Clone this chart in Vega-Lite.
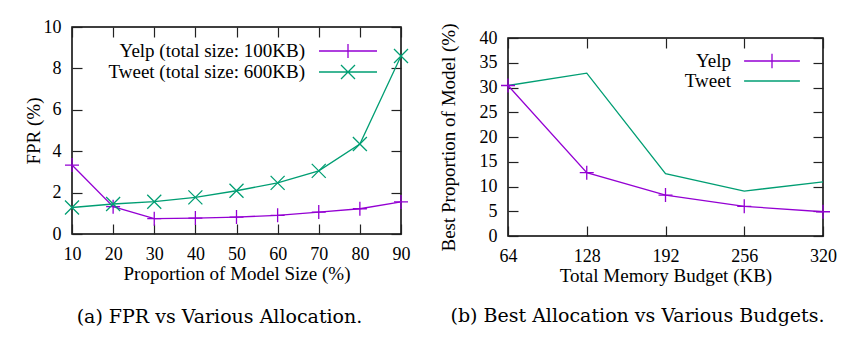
{
  "$schema": "https://vega.github.io/schema/vega-lite/v6.json",
  "padding": {"left": 23, "top": 17, "right": 0, "bottom": 0},
  "background": "white",
  "spacing": 26,
  "resolve": {"scale": {"color": "independent"}, "legend": {"color": "independent"}},
  "config": {
    "font": "Liberation Serif",
    "view": {"stroke": "black", "strokeWidth": 1.5, "fill": null},
    "axis": {
      "grid": false, "domain": false, "ticks": true, "tickColor": "#222222", "tickSize": 10, "offset": -10, "tickWidth": 1.2, "tickOpacity": 1, "zindex": 1,
      "labelFont": "Liberation Serif", "labelFontSize": 18, "labelColor": "black", "labelPadding": 11, "labelFlush": false,
      "titleFont": "Liberation Serif", "titleFontSize": 19, "titleFontWeight": "normal", "titleColor": "black"
    },
    "legend": {
      "orient": "none", "title": null, "symbolStrokeWidth": 1.3, "symbolFillColor": "transparent",
      "labelFont": "Liberation Serif", "labelFontSize": 19, "labelColor": "black", "labelAlign": "right",
      "labelLimit": 400, "rowPadding": 0, "padding": 0
    },
    "title": {"font": "DejaVu Serif", "fontSize": 19, "fontWeight": "normal", "color": "black", "orient": "bottom"}
  },
  "hconcat": [
    {
      "width": 329, "height": 207,
      "title": {"text": "(a)  FPR vs Various Allocation.", "dx": -17, "offset": 25},
      "data": {"values": [
        {"x": 10, "v": 3.33, "s": "Yelp (total size: 100KB)"},
        {"x": 20, "v": 1.32, "s": "Yelp (total size: 100KB)"},
        {"x": 30, "v": 0.74, "s": "Yelp (total size: 100KB)"},
        {"x": 40, "v": 0.77, "s": "Yelp (total size: 100KB)"},
        {"x": 50, "v": 0.82, "s": "Yelp (total size: 100KB)"},
        {"x": 60, "v": 0.9, "s": "Yelp (total size: 100KB)"},
        {"x": 70, "v": 1.06, "s": "Yelp (total size: 100KB)"},
        {"x": 80, "v": 1.22, "s": "Yelp (total size: 100KB)"},
        {"x": 90, "v": 1.55, "s": "Yelp (total size: 100KB)"},
        {"x": 10, "v": 1.28, "s": "Tweet (total size: 600KB)"},
        {"x": 20, "v": 1.45, "s": "Tweet (total size: 600KB)"},
        {"x": 30, "v": 1.56, "s": "Tweet (total size: 600KB)"},
        {"x": 40, "v": 1.77, "s": "Tweet (total size: 600KB)"},
        {"x": 50, "v": 2.09, "s": "Tweet (total size: 600KB)"},
        {"x": 60, "v": 2.47, "s": "Tweet (total size: 600KB)"},
        {"x": 70, "v": 3.05, "s": "Tweet (total size: 600KB)"},
        {"x": 80, "v": 4.35, "s": "Tweet (total size: 600KB)"},
        {"x": 90, "v": 8.6, "s": "Tweet (total size: 600KB)"}
      ]},
      "resolve": {"axis": {"x": "independent", "y": "independent"}},
      "layer": [
        {
          "mark": {"type": "line", "strokeWidth": 1.3, "clip": false},
          "encoding": {
            "x": {"field": "x", "type": "quantitative", "scale": {"domain": [10, 90], "nice": false},
                  "axis": {"values": [10, 20, 30, 40, 50, 60, 70, 80, 90], "title": "Proportion of Model Size (%)", "titlePadding": 1}},
            "y": {"field": "v", "type": "quantitative", "scale": {"domain": [0, 10], "nice": false},
                  "axis": {"values": [0, 2, 4, 6, 8, 10], "title": "FPR (%)", "titlePadding": 0}},
            "color": {"field": "s", "type": "nominal", "sort": null,
                      "scale": {"domain": ["Yelp (total size: 100KB)", "Tweet (total size: 600KB)"], "range": ["#9400d3", "#009e73"]},
                      "legend": {"legendX": 265, "legendY": 13, "symbolSize": 400, "labelOffset": -54,
                                 "encode": {"symbols": {"update": {
                                   "shape": {"signal": "datum.value === 'Yelp (total size: 100KB)' ? 'M-2.9,0H2.9M0,-0.7V0.7' : 'M-2.9,0H2.9M-0.7,-0.7L0.7,0.7M-0.7,0.7L0.7,-0.7'"},
                                   "fill": {"value": "transparent"}, "strokeWidth": {"value": 1.3}}}}}}
          }
        },
        {
          "transform": [{"filter": "datum.s === 'Yelp (total size: 100KB)'"}],
          "mark": {"type": "point", "filled": false, "shape": "M-1,0H1M0,-1V1", "color": "#9400d3", "strokeWidth": 1.3, "size": 196, "opacity": 1, "clip": false},
          "encoding": {
            "x": {"field": "x", "type": "quantitative", "axis": {"orient": "top", "labels": false, "title": null, "values": [10, 20, 30, 40, 50, 60, 70, 80, 90]}},
            "y": {"field": "v", "type": "quantitative", "axis": {"orient": "right", "labels": false, "title": null, "values": [0, 2, 4, 6, 8, 10]}}
          }
        },
        {
          "transform": [{"filter": "datum.s === 'Tweet (total size: 600KB)'"}],
          "mark": {"type": "point", "filled": false, "shape": "M-1,-1L1,1M-1,1L1,-1", "color": "#009e73", "strokeWidth": 1.3, "size": 196, "opacity": 1, "clip": false},
          "encoding": {
            "x": {"field": "x", "type": "quantitative", "axis": null},
            "y": {"field": "v", "type": "quantitative", "axis": null}
          }
        }
      ]
    },
    {
      "spacing": 10,
      "bounds": "flush",
      "resolve": {"scale": {"color": "independent"}, "legend": {"color": "independent"}},
      "vconcat": [
        {
          "width": 1, "height": 1,
          "view": {"stroke": null},
          "data": {"values": []},
          "mark": {"type": "rule"},
          "encoding": {}
        },
        {
          "width": 315, "height": 198,
          "title": {"text": "(b)  Best Allocation vs Various Budgets.", "dx": -28, "offset": 22},
          "data": {"values": [
            {"x": 64, "v": 30.4, "s": "Yelp"},
            {"x": 128, "v": 12.8, "s": "Yelp"},
            {"x": 192, "v": 8.27, "s": "Yelp"},
            {"x": 256, "v": 6.0, "s": "Yelp"},
            {"x": 320, "v": 4.9, "s": "Yelp"},
            {"x": 64, "v": 30.4, "s": "Tweet"},
            {"x": 128, "v": 32.9, "s": "Tweet"},
            {"x": 192, "v": 12.6, "s": "Tweet"},
            {"x": 256, "v": 9.07, "s": "Tweet"},
            {"x": 320, "v": 10.95, "s": "Tweet"}
          ]},
          "resolve": {"axis": {"x": "independent", "y": "independent"}},
          "layer": [
            {
              "mark": {"type": "line", "strokeWidth": 1.3, "clip": false},
              "encoding": {
                "x": {"field": "x", "type": "quantitative", "scale": {"domain": [64, 320], "nice": false},
                      "axis": {"values": [64, 128, 192, 256, 320], "title": "Total Memory Budget (KB)", "titlePadding": 1}},
                "y": {"field": "v", "type": "quantitative", "scale": {"domain": [0, 40], "nice": false},
                      "axis": {"values": [0, 5, 10, 15, 20, 25, 30, 35, 40], "title": "Best Proportion of Model (%)", "titlePadding": 21}},
                "color": {"field": "s", "type": "nominal", "sort": null,
                          "scale": {"domain": ["Yelp", "Tweet"], "range": ["#9400d3", "#009e73"]},
                          "legend": {"legendX": 254, "legendY": 13, "symbolSize": 324, "labelOffset": -51,
                                     "encode": {"symbols": {"update": {
                                       "shape": {"signal": "datum.value === 'Yelp' ? 'M-3.1,0H3.1M0,-0.8V0.8' : 'M-3.1,0H3.1'"},
                                       "fill": {"value": "transparent"}, "strokeWidth": {"value": 1.3}}}}}}
              }
            },
            {
              "transform": [{"filter": "datum.s === 'Yelp'"}],
              "mark": {"type": "point", "filled": false, "shape": "M-1,0H1M0,-1V1", "color": "#9400d3", "strokeWidth": 1.3, "size": 196, "opacity": 1, "clip": false},
              "encoding": {
                "x": {"field": "x", "type": "quantitative", "axis": {"orient": "top", "labels": false, "title": null, "values": [64, 128, 192, 256, 320]}},
                "y": {"field": "v", "type": "quantitative", "axis": {"orient": "right", "labels": false, "title": null, "values": [0, 5, 10, 15, 20, 25, 30, 35, 40]}}
              }
            }
          ]
        }
      ]
    }
  ]
}
